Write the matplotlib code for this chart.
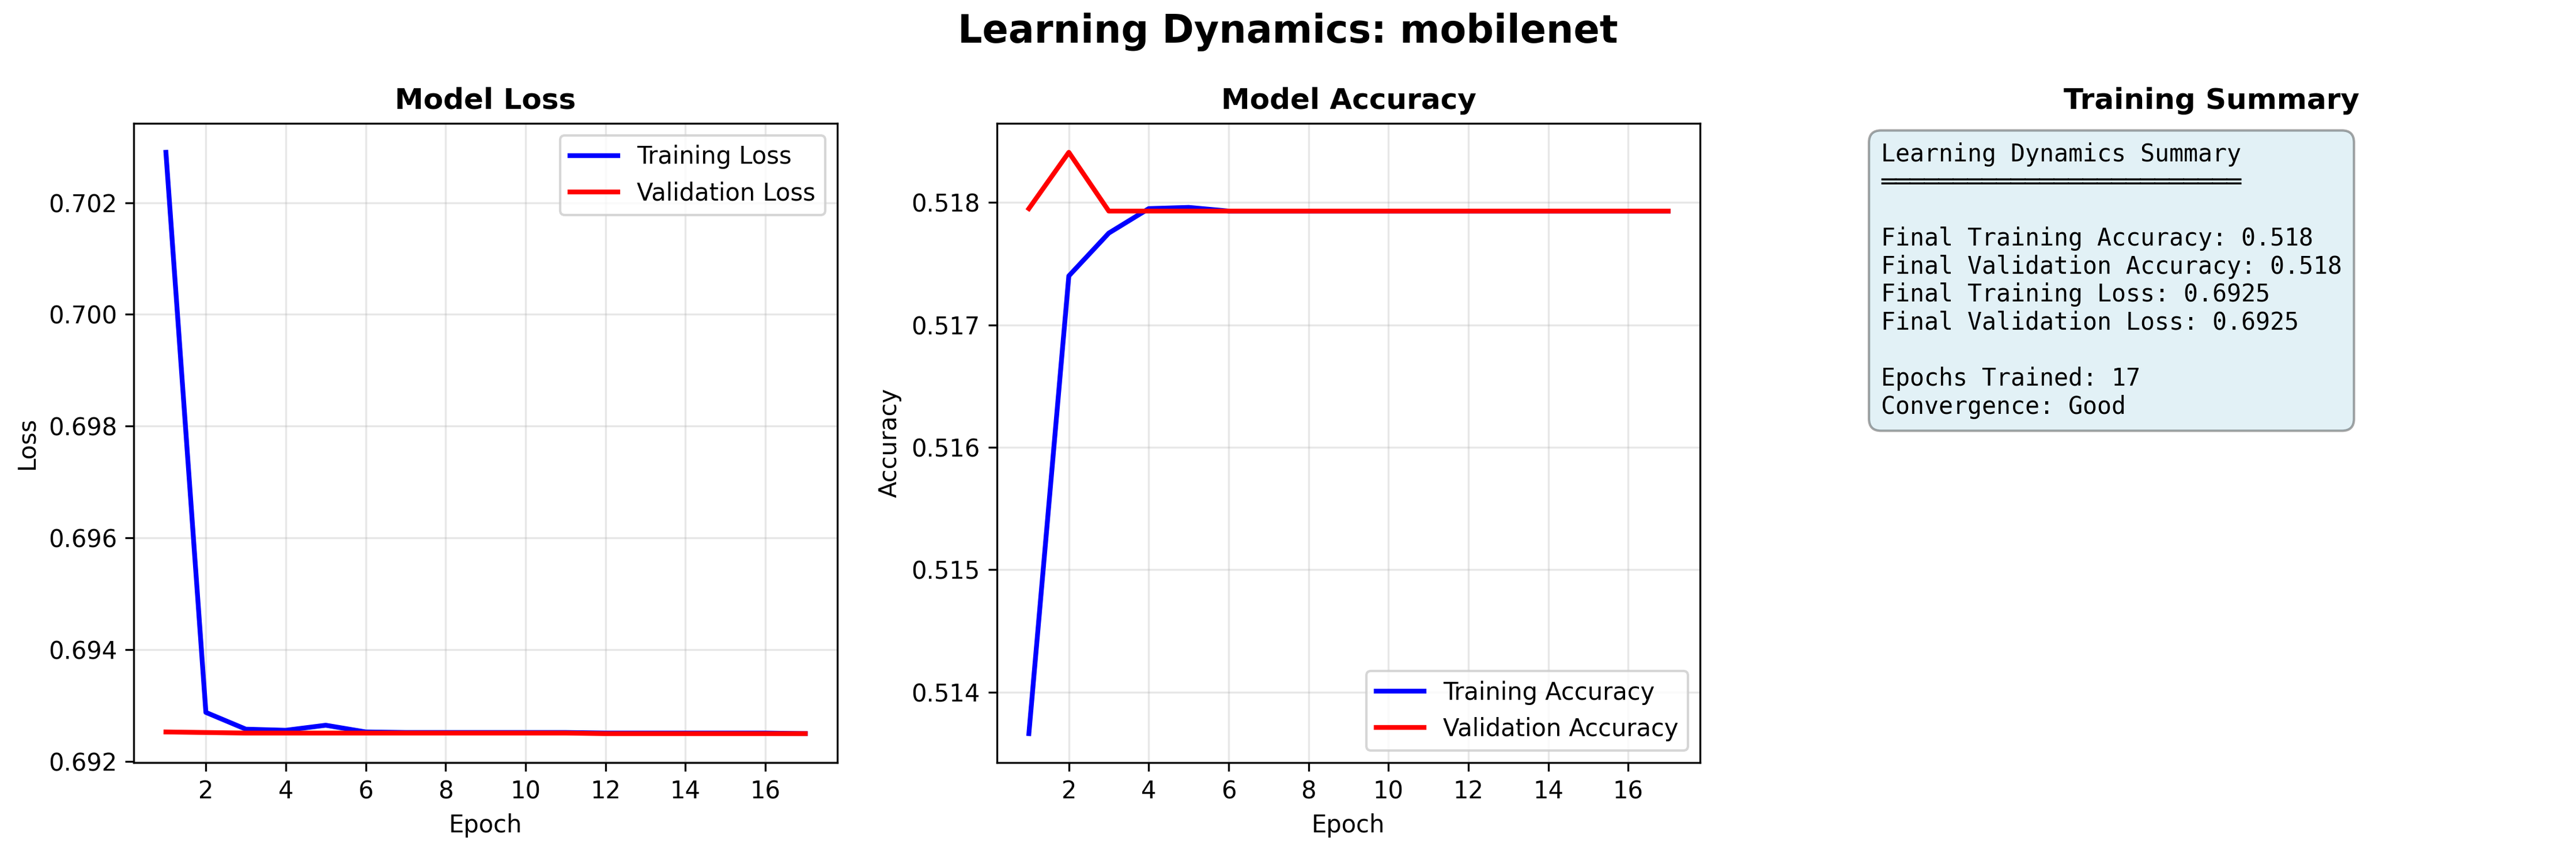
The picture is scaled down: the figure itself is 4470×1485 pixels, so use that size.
import matplotlib.pyplot as plt

# Learning curves per epoch
epochs = list(range(1, 18))
train_loss = [0.70290, 0.69288, 0.69258, 0.69256, 0.69265, 0.69253, 0.69252, 0.69252, 0.69252,
              0.69252, 0.69252, 0.69251, 0.69251, 0.69251, 0.69251, 0.69251, 0.69250]
val_loss = [0.69253, 0.69252, 0.69251, 0.69251, 0.69251, 0.69251, 0.69251, 0.69251, 0.69251,
            0.69251, 0.69251, 0.69250, 0.69250, 0.69250, 0.69250, 0.69250, 0.69250]
train_acc = [0.51366, 0.51740, 0.51775, 0.51795, 0.51796, 0.51793, 0.51793, 0.51793, 0.51793,
             0.51793, 0.51793, 0.51793, 0.51793, 0.51793, 0.51793, 0.51793, 0.51793]
val_acc = [0.51795, 0.51841, 0.51793, 0.51793, 0.51793, 0.51793, 0.51793, 0.51793, 0.51793,
           0.51793, 0.51793, 0.51793, 0.51793, 0.51793, 0.51793, 0.51793, 0.51793]

summary = ("Learning Dynamics Summary\n"
           "═════════════════════════\n\n"
           "Final Training Accuracy: 0.518\n"
           "Final Validation Accuracy: 0.518\n"
           "Final Training Loss: 0.6925\n"
           "Final Validation Loss: 0.6925\n\n"
           "Epochs Trained: 17\n"
           "Convergence: Good")

fig = plt.figure(figsize=(14.9, 4.95), dpi=300)
fig.suptitle("Learning Dynamics: mobilenet", fontsize=16, fontweight='bold', y=0.985)

ax1 = fig.add_axes([0.052, 0.109, 0.273, 0.747])
ax1.plot(epochs, train_loss, color='blue', lw=2, label='Training Loss')
ax1.plot(epochs, val_loss, color='red', lw=2, label='Validation Loss')
ax1.set_title("Model Loss", fontweight='bold', fontsize=12)
ax1.set_xlabel("Epoch")
ax1.set_ylabel("Loss")
ax1.grid(True, alpha=0.3)
ax1.legend(loc='upper right')

ax2 = fig.add_axes([0.387, 0.109, 0.273, 0.747])
ax2.plot(epochs, train_acc, color='blue', lw=2, label='Training Accuracy')
ax2.plot(epochs, val_acc, color='red', lw=2, label='Validation Accuracy')
ax2.set_title("Model Accuracy", fontweight='bold', fontsize=12)
ax2.set_xlabel("Epoch")
ax2.set_ylabel("Accuracy")
ax2.grid(True, alpha=0.3)
ax2.legend(loc='lower right')

ax3 = fig.add_axes([0.722, 0.109, 0.273, 0.747])
ax3.axis('off')
ax3.set_title("Training Summary", fontweight='bold', fontsize=12)
ax3.text(0.03, 0.97, summary, transform=ax3.transAxes, va='top', ha='left',
         family='monospace', fontsize=10,
         bbox=dict(boxstyle='round,pad=0.5', facecolor='lightblue', alpha=0.35))

fig.savefig("out.png", dpi=300)
